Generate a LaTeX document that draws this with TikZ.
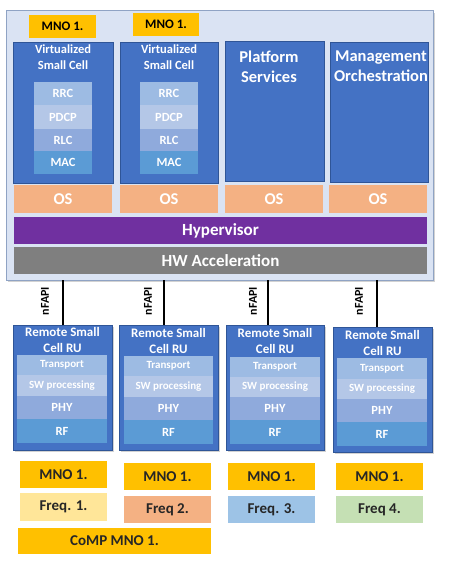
\documentclass[tikz,border=0pt]{standalone}
\usepackage{fontspec}
\setmainfont{Carlito}
\usetikzlibrary{shadows}
\definecolor{outerfill}{HTML}{DAE3F3}
\definecolor{outerdraw}{HTML}{8FA3C4}
\definecolor{bluebox}{HTML}{4472C4}
\definecolor{bluedraw}{HTML}{2F5597}
\definecolor{lyrA}{HTML}{9DBBE3}
\definecolor{lyrB}{HTML}{B4C7E7}
\definecolor{lyrC}{HTML}{8FAADC}
\definecolor{lyrD}{HTML}{5B9BD5}
\definecolor{osc}{HTML}{F4B183}
\definecolor{hypc}{HTML}{7030A0}
\definecolor{hwc}{HTML}{7F7F7F}
\definecolor{mnoc}{HTML}{FFC000}
\definecolor{fq1}{HTML}{FFE699}
\definecolor{fq2}{HTML}{F4B183}
\definecolor{fq3}{HTML}{9DC3E6}
\definecolor{fq4}{HTML}{C5E0B4}
% \bx{style}{name}{x1}{y1}{x2}{y2}{text}
\newcommand\bx[7]{%
  \node[#1, minimum width={(#5-#3)*1pt}, minimum height={(#6-#4)*1pt}]
    (#2) at ({(#3+#5)/2},{(#4+#6)/2}) {#7};}
\begin{document}
\begin{tikzpicture}[x=1pt,y=-1pt,
  every node/.style={font=\bfseries},
  rb/.style={rectangle, inner sep=0pt, outer sep=0pt, align=center},
  outerbox/.style={rb, fill=outerfill, draw=outerdraw, line width=1pt,
     drop shadow={opacity=0.35, shadow xshift=2pt, shadow yshift=-2pt}},
  bluecell/.style={rb, fill=bluebox, draw=bluedraw, line width=0.8pt},
  rucell/.style={rb, fill=bluebox, draw=bluedraw, line width=0.8pt,
     drop shadow={opacity=0.35, shadow xshift=2pt, shadow yshift=-2pt}},
  wtxt/.style={text=white, align=center, inner sep=0pt},
  layer/.style={rb, text=white, font=\bfseries\fontsize{12.5}{13}\selectfont},
  rulayer/.style={rb, text=white, font=\bfseries\fontsize{11}{12}\selectfont},
  oslayer/.style={rb, fill=osc, text=white, font=\bfseries\fontsize{16.5}{17}\selectfont},
  bar/.style={rb, text=white, font=\bfseries\fontsize{17}{18}\selectfont},
  mnotop/.style={rb, fill=mnoc, text=black, font=\bfseries\fontsize{13}{14}\selectfont},
  tag/.style={rb, text=black!85, font=\bfseries\fontsize{15}{16}\selectfont},
  link/.style={line width=1.3pt, black},
  apilbl/.style={rotate=90, inner sep=0pt, font=\bfseries\fontsize{12}{12}\selectfont}
]
\useasboundingbox[fill=white] (0,0) rectangle (448,567);

% outer container
\bx{outerbox}{outer}{6}{11}{433}{280}{}

% MNO labels at top
\bx{mnotop}{mt1}{29}{15}{96}{38}{MNO 1.}
\bx{mnotop}{mt2}{133}{13}{199}{36}{MNO 1.}

% four upper blue cells
\bx{bluecell}{vsc1}{13}{42}{113}{183}{}
\bx{bluecell}{vsc2}{120}{42}{218}{183}{}
\bx{bluecell}{ps}{225}{41}{324}{181}{}
\bx{bluecell}{mo}{330}{42}{428}{182}{}

\node[wtxt, font=\bfseries\fontsize{12.5}{16}\selectfont] (vsc1t) at (63,57) {Virtualized\\Small Cell};
\node[wtxt, font=\bfseries\fontsize{12.5}{16}\selectfont] (vsc2t) at (169,57) {Virtualized\\Small Cell};
\node[wtxt, font=\bfseries\fontsize{16.5}{20.5}\selectfont] (pst) at (269,67) {Platform\\Services};
\node[wtxt, font=\bfseries\fontsize{16.5}{20.5}\selectfont] (mot) at (381,66) {Management\\Orchestration};

% protocol stacks
\bx{layer, fill=lyrA}{rrc1}{34}{82}{92}{105}{RRC}
\bx{layer, fill=lyrB}{pdcp1}{34}{105}{92}{129}{PDCP}
\bx{layer, fill=lyrC}{rlc1}{34}{129}{92}{151}{RLC}
\bx{layer, fill=lyrD}{mac1}{34}{151}{92}{174}{MAC}
\bx{layer, fill=lyrA}{rrc2}{140}{82}{198}{105}{RRC}
\bx{layer, fill=lyrB}{pdcp2}{140}{105}{198}{129}{PDCP}
\bx{layer, fill=lyrC}{rlc2}{140}{129}{198}{151}{RLC}
\bx{layer, fill=lyrD}{mac2}{140}{151}{198}{174}{MAC}

% OS row
\bx{oslayer}{os1}{14}{185}{112}{213}{OS}
\bx{oslayer}{os2}{120}{185}{218}{213}{OS}
\bx{oslayer}{os3}{225}{185}{323}{213}{OS}
\bx{oslayer}{os4}{329}{185}{427}{213}{OS}

% hypervisor and HW acceleration
\bx{bar, fill=hypc}{hyp}{14}{217}{427}{244}{Hypervisor}
\bx{bar, fill=hwc}{hw}{14}{247}{427}{274}{HW Acceleration}

% remote units
\bx{rucell}{ru1}{13}{325}{112}{450}{}
\bx{rucell}{ru2}{119}{325}{218}{450}{}
\bx{rucell}{ru3}{226}{325}{324}{450}{}
\bx{rucell}{ru4}{333}{327}{432}{452}{}

\node[wtxt, font=\bfseries\fontsize{13}{15.5}\selectfont] (ru1t) at (62.5,340) {Remote Small\\Cell RU};
\node[wtxt, font=\bfseries\fontsize{13}{15.5}\selectfont] (ru2t) at (168.5,341) {Remote Small\\Cell RU};
\node[wtxt, font=\bfseries\fontsize{13}{15.5}\selectfont] (ru3t) at (275,341) {Remote Small\\Cell RU};
\node[wtxt, font=\bfseries\fontsize{13}{15.5}\selectfont] (ru4t) at (382.5,343) {Remote Small\\Cell RU};

% RU stacks
\bx{rulayer, fill=lyrA}{tr1}{17}{355}{107}{375}{Transport}
\bx{rulayer, fill=lyrB}{sw1}{17}{375}{107}{396}{SW processing}
\bx{layer, fill=lyrC}{phy1}{17}{396}{107}{419}{PHY}
\bx{layer, fill=lyrD}{rf1}{17}{419}{107}{443}{RF}

\bx{rulayer, fill=lyrA}{tr2}{124}{356}{213}{376}{Transport}
\bx{rulayer, fill=lyrB}{sw2}{124}{376}{213}{397}{SW processing}
\bx{layer, fill=lyrC}{phy2}{124}{397}{213}{420}{PHY}
\bx{layer, fill=lyrD}{rf2}{124}{420}{213}{444}{RF}

\bx{rulayer, fill=lyrA}{tr3}{230}{357}{320}{377}{Transport}
\bx{rulayer, fill=lyrB}{sw3}{230}{377}{320}{397}{SW processing}
\bx{layer, fill=lyrC}{phy3}{230}{397}{320}{420}{PHY}
\bx{layer, fill=lyrD}{rf3}{230}{420}{320}{444}{RF}

\bx{rulayer, fill=lyrA}{tr4}{337}{358}{427}{379}{Transport}
\bx{rulayer, fill=lyrB}{sw4}{337}{379}{427}{399}{SW processing}
\bx{layer, fill=lyrC}{phy4}{337}{399}{427}{422}{PHY}
\bx{layer, fill=lyrD}{rf4}{337}{422}{427}{446}{RF}

% nFAPI links
\draw[link] (outer.south -| 63,0) -- (ru1.north -| 63,0);
\draw[link] (outer.south -| 164,0) -- (ru2.north -| 164,0);
\draw[link] (outer.south -| 268,0) -- (ru3.north -| 268,0);
\draw[link] (outer.south -| 377,0) -- (ru4.north -| 377,0);
\node[apilbl] (api1) at (45,301) {nFAPI};
\node[apilbl] (api2) at (148,301) {nFAPI};
\node[apilbl] (api3) at (253,301) {nFAPI};
\node[apilbl] (api4) at (359,301) {nFAPI};

% bottom tags
\bx{tag, fill=mnoc}{mb1}{20}{461}{107}{488}{MNO 1.}
\bx{tag, fill=mnoc}{mb2}{124}{463}{211}{490}{MNO 1.}
\bx{tag, fill=mnoc}{mb3}{228}{463}{315}{490}{MNO 1.}
\bx{tag, fill=mnoc}{mb4}{336}{463}{423}{490}{MNO 1.}

\bx{tag, fill=fq1}{f1}{20}{493}{107}{521}{Freq. 1.}
\bx{tag, fill=fq2}{f2}{124}{496}{211}{523}{Freq 2.}
\bx{tag, fill=fq3}{f3}{228}{496}{315}{523}{Freq. 3.}
\bx{tag, fill=fq4}{f4}{336}{496}{423}{523}{Freq 4.}

\bx{tag, fill=mnoc}{comp}{18}{528}{211}{554}{CoMP MNO 1.}
\end{tikzpicture}
\end{document}
